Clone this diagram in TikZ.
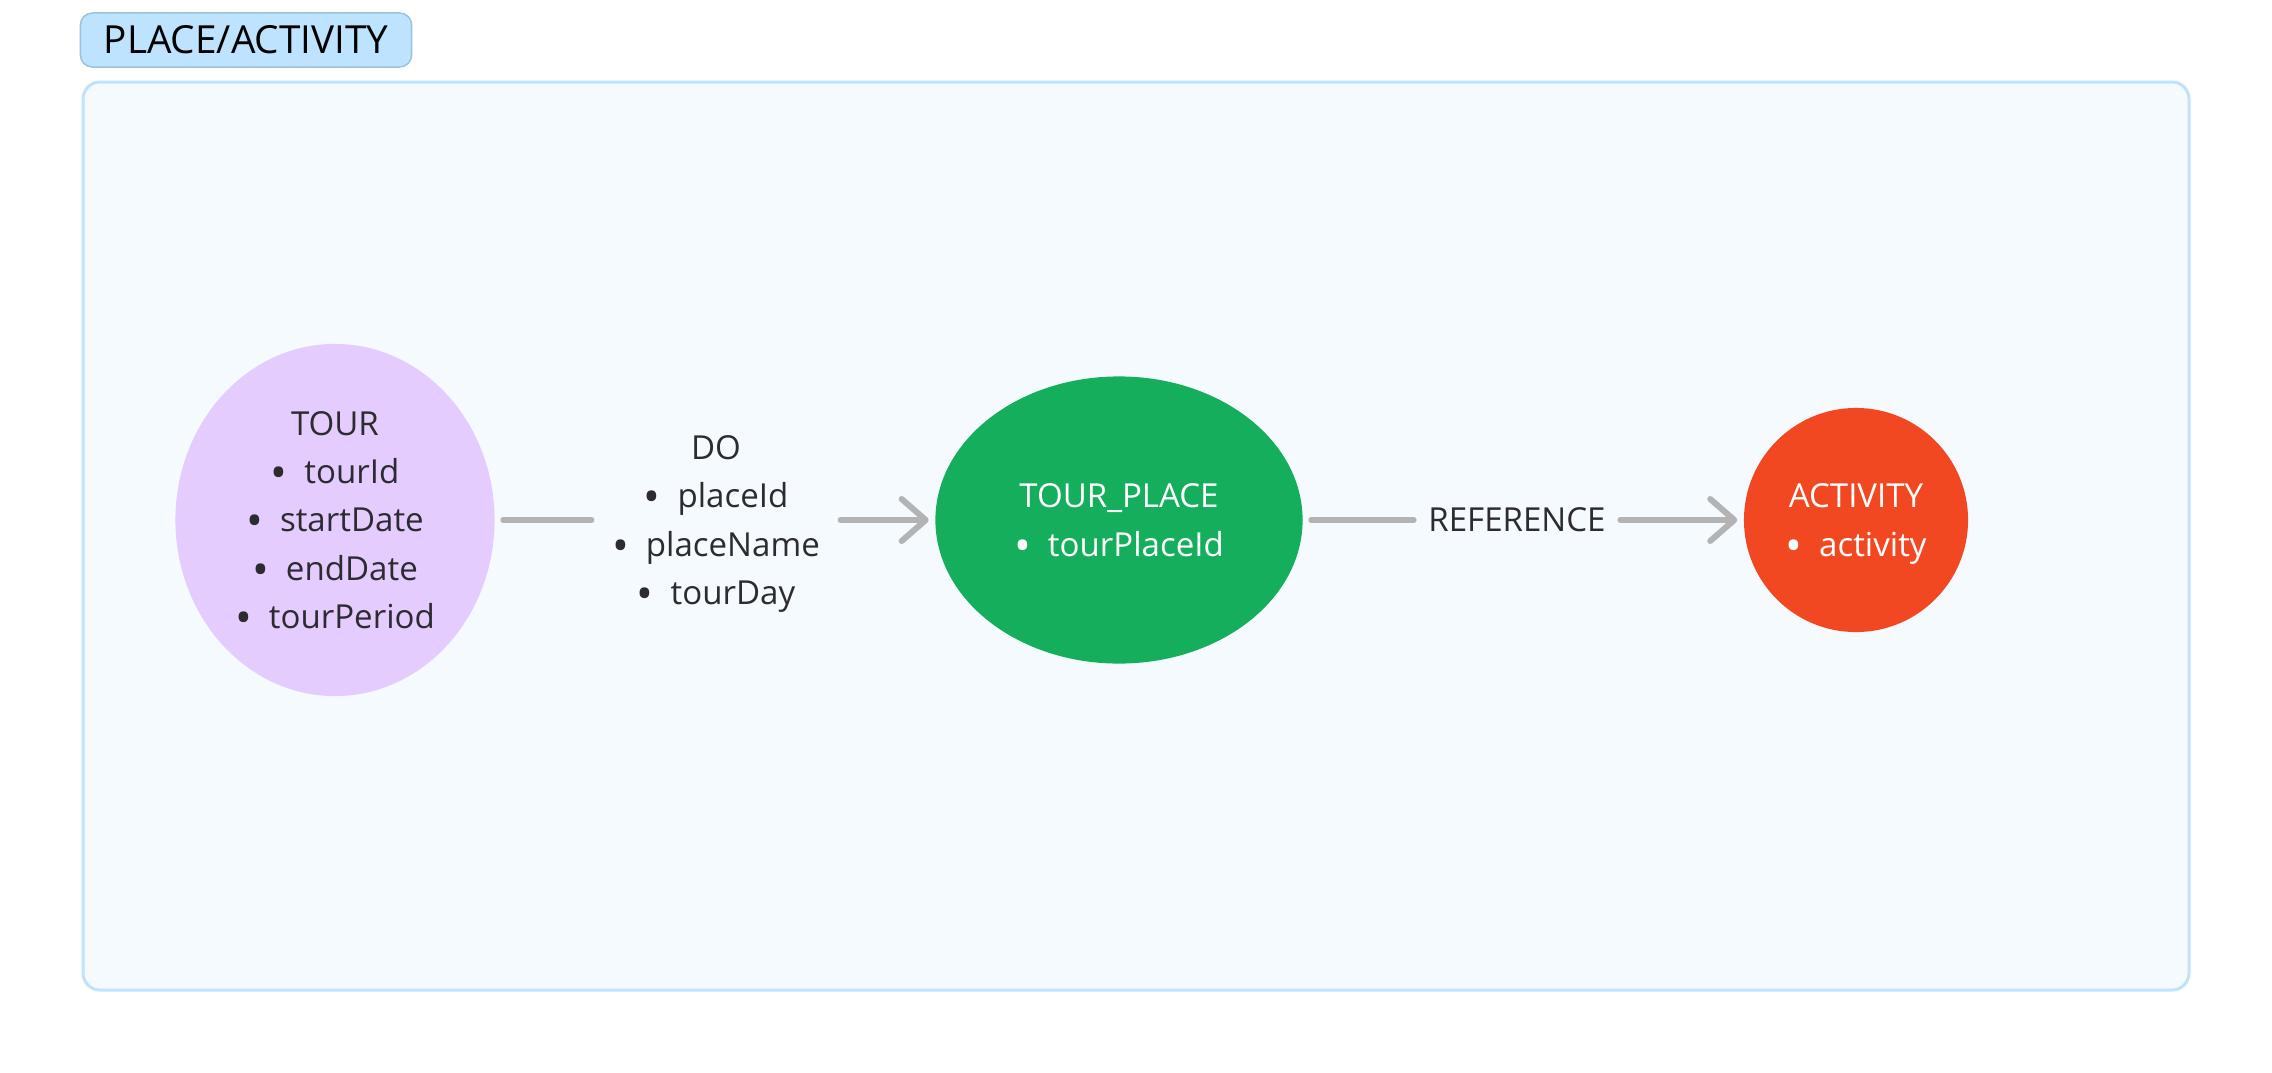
\documentclass[tikz,border=0pt]{standalone}
\usepackage{fontspec}
\setmainfont{Open Sans}
\usepackage{xcolor}
\usepackage{tikz}
\usetikzlibrary{positioning,shapes.geometric,arrows.meta}

\definecolor{framefill}{HTML}{F5FAFF}
\definecolor{frameline}{HTML}{BDE3FF}
\definecolor{badgefill}{HTML}{BDE3FF}
\definecolor{badgeline}{HTML}{9DC2DE}
\definecolor{tourfill}{HTML}{E4CCFF}
\definecolor{placefill}{HTML}{14AE5C}
\definecolor{actfill}{HTML}{F24822}
\definecolor{linkgray}{HTML}{B3B3B3}
\definecolor{inktext}{HTML}{2C2C30}

\newcommand{\itm}[1]{\raisebox{-0.15em}{\scalebox{1.35}{\textbullet}}\hspace{0.17cm}#1}

\begin{document}
\begin{tikzpicture}[x=0.01cm, y=-0.01cm,
  entity/.style={ellipse, inner sep=0pt, align=center, text depth=0pt,
                 font=\fontsize{9.4}{13.7}\selectfont},
  lbl/.style={inner xsep=0.2cm, inner ysep=0pt, align=center, text=inktext,
              text depth=0pt, font=\fontsize{9.4}{13.7}\selectfont},
  link/.style={draw=linkgray, line width=0.06cm, line cap=round},
  tip/.style={-{Straight Barb[length=0.24cm, width=0.42cm, round]}}
]
\fill[white] (0,0) rectangle (2272,1072);
\useasboundingbox (0,0) rectangle (2272,1072);

% frame and its title
\draw[fill=framefill, draw=frameline, line width=0.03cm, rounded corners=0.17cm]
  (83,82) rectangle (2189,990);
\node[fill=badgefill, draw=badgeline, line width=0.015cm, rounded corners=0.12cm,
      minimum width=3.31cm, minimum height=0.54cm, inner sep=0pt,
      font=\fontsize{11}{12}\selectfont] (title) at (246,40) {PLACE/ACTIVITY};

% entities
\node[entity, fill=tourfill, text=inktext, minimum width=3.19cm, minimum height=3.52cm]
  (tour) at (335,520)
  {TOUR\\\itm{tourId}\\\itm{startDate}\\\itm{endDate}\\\itm{tourPeriod}};
\node[entity, fill=placefill, text=white, minimum width=3.67cm, minimum height=2.87cm]
  (tourplace) at (1119,520) {TOUR\_PLACE\\\itm{tourPlaceId}};
\node[entity, circle, fill=actfill, text=white, minimum size=2.24cm]
  (activity) at (1856,520) {ACTIVITY\\\itm{activity}};

% relations
\node[lbl] (do) at (716,520) {DO\\\itm{placeId}\\\itm{placeName}\\\itm{tourDay}};
\node[lbl, inner xsep=0.14cm] (ref) at (1517,520) {REFERENCE};

\draw[link, shorten <=0.08cm] (tour) -- (do);
\draw[link, tip, shorten >=0.06cm] (do) -- (tourplace);
\draw[link, shorten <=0.08cm] (tourplace) -- (ref);
\draw[link, tip, shorten >=0.06cm] (ref) -- (activity);
\end{tikzpicture}
\end{document}
